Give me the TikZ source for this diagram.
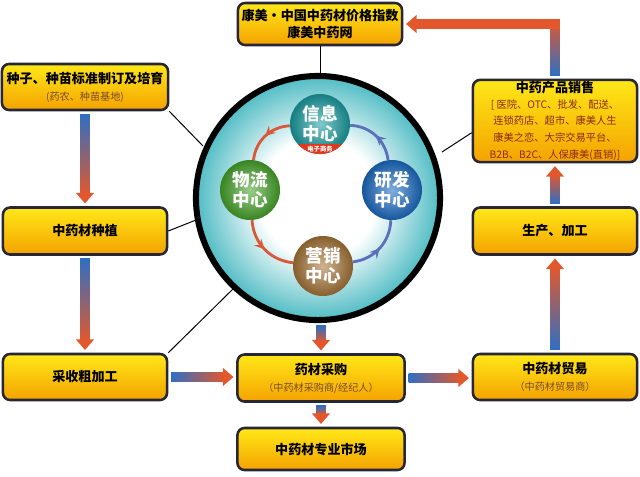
\documentclass[tikz,border=0pt]{standalone}
\usepackage{fontspec}
\setmainfont{Noto Sans CJK SC}
\usetikzlibrary{positioning}
\usetikzlibrary{calc}
\usetikzlibrary{arrows.meta}
\usetikzlibrary{decorations.markings}

\definecolor{boxtop}{HTML}{FFE818}
\definecolor{boxbot}{HTML}{F4A200}
\definecolor{boxrim}{HTML}{262636}
\definecolor{subtxt}{HTML}{7A4A30}
\definecolor{listtxt}{HTML}{8A2A14}
\definecolor{ared}{HTML}{E2582C}
\definecolor{ablue}{HTML}{2F6FC4}
\definecolor{hubedge}{HTML}{50BCC4}
\definecolor{infoc}{HTML}{1A9EA2}
\definecolor{logic}{HTML}{47A52A}
\definecolor{rdc}{HTML}{1A6CC4}
\definecolor{mktc}{HTML}{A87638}
\definecolor{ringred}{HTML}{D9583A}
\definecolor{ringblue}{HTML}{5A70B8}
\definecolor{ecomred}{HTML}{E03A1E}

\pgfdeclareradialshading{hubshade}{\pgfpoint{0bp}{0bp}}{color(0bp)=(white); color(12bp)=(white); color(19bp)=(hubedge!55); color(25bp)=(hubedge); color(50bp)=(hubedge)}

\newcommand{\subfont}{\fontsize{7.2}{8.5}\selectfont\mdseries\color{subtxt}}
\newcommand{\listfont}{\fontsize{7.3}{8.8}\selectfont\mdseries\color{listtxt}}

% gradient arrows, blue tail -> red head
\newcommand{\flowdown}[2]{%
  \shade[top color=ablue, bottom color=ared] let \p1=(#1), \p2=(#2) in (\x2-3.4pt,\y1-2pt) rectangle (\x2+3.4pt,\y2+8pt);
  \fill[ared] let \p1=(#1), \p2=(#2) in (\x2-6.5pt,\y2+9.5pt) -- (\x2+6.5pt,\y2+9.5pt) -- (\x2,\y2+2pt) -- cycle;}
\newcommand{\flowup}[2]{%
  \shade[bottom color=ablue, top color=ared] let \p1=(#1), \p2=(#2) in (\x1-3.4pt,\y1+2pt) rectangle (\x1+3.4pt,\y2-8pt);
  \fill[ared] let \p1=(#1), \p2=(#2) in (\x1-6.5pt,\y2-9.5pt) -- (\x1+6.5pt,\y2-9.5pt) -- (\x1,\y2-2pt) -- cycle;}
\newcommand{\flowright}[2]{%
  \shade[left color=ablue, right color=ared] let \p1=(#1), \p2=(#2) in (\x1+2pt,\y1-3.4pt) rectangle (\x2-8pt,\y1+3.4pt);
  \fill[ared] let \p1=(#1), \p2=(#2) in (\x2-9.5pt,\y1-6.5pt) -- (\x2-9.5pt,\y1+6.5pt) -- (\x2-2pt,\y1) -- cycle;}

\tikzset{
  box/.style={rectangle, rounded corners=5pt, draw=boxrim, line width=1.8pt,
    top color=boxtop, bottom color=boxbot, minimum width=4.1cm, minimum height=1.15cm,
    align=center, inner sep=2pt, font=\fontsize{9.3}{12}\selectfont\bfseries},
  ball/.style={circle, minimum size=1.5cm, inner sep=0pt, text=white, align=center,
    font=\fontsize{12.5}{14}\selectfont\bfseries, shade, inner color=#1!55!white, outer color=#1!80!black},
  link/.style={draw=black, line width=0.7pt},
  ringred/.style={draw=ringred, line width=2pt, postaction={decorate},
    decoration={markings, mark=at position 0.5 with {\arrow{Stealth[length=7pt, width=7pt, inset=2.5pt]}}}},
  ringblue/.style={ringred, draw=ringblue},
}

\begin{document}
\begin{tikzpicture}[x=0.025cm, y=-0.025cm]
\useasboundingbox (0,0) rectangle (640,476);

% boxes
\node[box, minimum height=1.05cm] (tb) at (320,24) {康美·中国中药材价格指数\\康美中药网};
\node[box, minimum width=4.15cm] (seed) at (85,87) {种子、种苗标准制订及培育\\{\subfont (药农、种苗基地)}};
\node[box, minimum height=1.175cm] (plant) at (85,231) {中药材种植};
\node[box] (harvest) at (85,377) {采收粗加工};
\node[box, minimum width=4.175cm, minimum height=1.175cm] (buy) at (321,378) {药材采购\\{\subfont （中药材采购商/经纪人）}};
\node[box, minimum width=4.175cm, minimum height=1.05cm] (market) at (321,449) {中药材专业市场};
\node[box] (trade) at (555,377) {中药材贸易\\{\subfont （中药材贸易商）}};
\node[box, minimum height=1.175cm] (prod) at (555,231) {生产、加工};
\node[box, minimum height=1.825cm, inner sep=1pt] (sale) at (555,121) {中药产品销售\\[-1pt]{\listfont [ 医院、OTC、批发、配送、}\\{\listfont 连锁药店、超市、康美人生}\\{\listfont 康美之恋、大宗交易平台、}\\{\listfont B2B、B2C、人保康美(直销)]}};

% thin links to the hub
\draw[link] (tb.south) -- (320,80);
\draw[link] (seed.south east) -- (203,146);
\draw[link] (plant.east) -- (196,220);
\draw[link] (harvest.north east) -- (233,289);
\draw[link] (sale.188) -- (442,152);

% hub
\node[circle, minimum size=6.1cm, draw=black, line width=4.3pt, shade, shading=hubshade] (hub) at (318,198) {};

\node[ball=infoc] (info) at (320,124) {信息\\中心};
\begin{scope}
  \clip (info.center) circle (0.75cm);
  \fill[ecomred] ($(info.center)+(-40,20)$) rectangle ($(info.center)+(40,40)$);
\end{scope}
\node[text=white, font=\fontsize{4.5}{5}\selectfont\bfseries] (ecom) at ($(info.center)+(0,25)$) {电子商务};
\node[ball=logic] (logi) at (250,190) {物流\\中心};
\node[ball=rdc] (rd) at (392,190) {研发\\中心};
\node[ball=mktc] (mkt) at (323,266) {营销\\中心};

% ring
\draw[ringred] (info) to[bend right=40] (logi);
\draw[ringred] (logi) to[bend right=40] (mkt);
\draw[ringblue] (mkt) to[bend right=40] (rd);
\draw[ringblue] (rd) to[bend right=40] (info);

% flow arrows
\flowdown{seed.south}{plant.north}
\flowdown{plant.south}{harvest.north}
\flowright{harvest.east}{buy.west}
\flowright{buy.east}{trade.west}
\flowup{trade.north}{prod.south}
\flowup{prod.north}{sale.south}
\flowdown{hub.south}{buy.north}
\flowdown{buy.south}{market.north}

% sale -> top box
\shade[bottom color=ablue, top color=ared] let \p1=(sale.north), \p2=(tb.east) in (\x1-3.4pt,\y1+2pt) rectangle (\x1+3.4pt,\y2+3.4pt);
\fill[ared] let \p1=(sale.north), \p2=(tb.east) in (\x1+3.4pt,\y2+3.4pt) -- (\x1+3.4pt,\y2-3.4pt) -- (\x2+8pt,\y2-3.4pt) -- (\x2+8pt,\y2+3.4pt) -- cycle;
\fill[ared] let \p1=(sale.north), \p2=(tb.east) in (\x2+9.5pt,\y2-6.5pt) -- (\x2+9.5pt,\y2+6.5pt) -- (\x2+2pt,\y2) -- cycle;
\end{tikzpicture}
\end{document}
